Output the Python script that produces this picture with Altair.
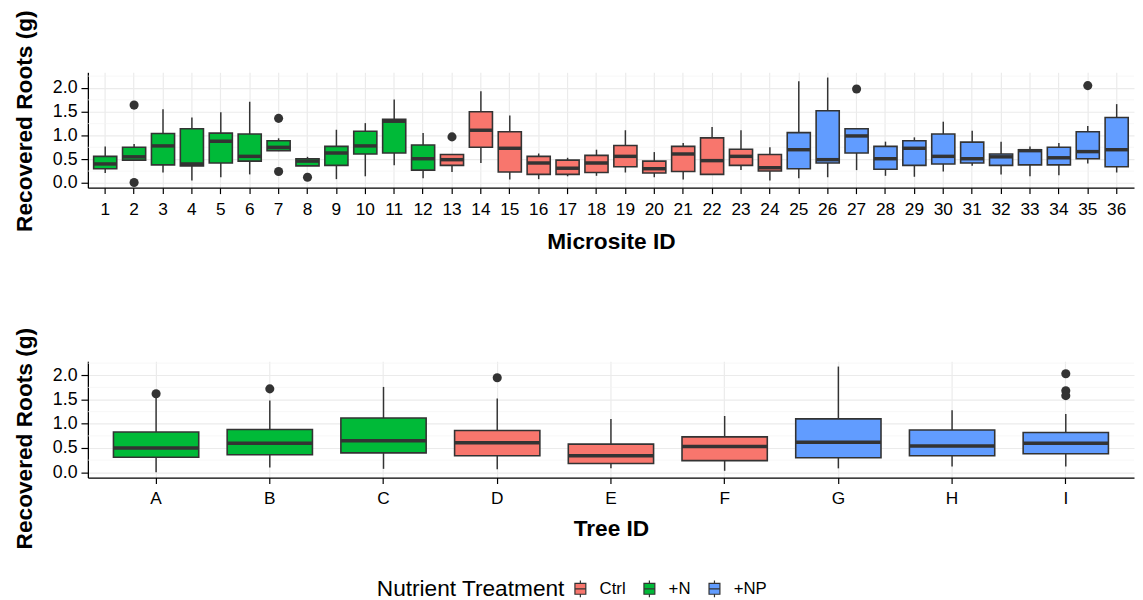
import altair as alt
import pandas as pd

# ---------------- data ----------------
sites = [str(i) for i in range(1, 37)]
site_trt = ["+N"] * 12 + ["Ctrl"] * 12 + ["+NP"] * 12
site_lo = [0.21, 0.47, 0.22, 0.05, 0.12, 0.18, 0.67, 0.36, 0.08, 0.14, 0.37, 0.10,
           0.23, 0.42, 0.07, 0.08, 0.14, 0.15, 0.22, 0.12, 0.07, 0.17, 0.27, 0.05,
           0.10, 0.12, 0.27, 0.15, 0.13, 0.24, 0.36, 0.18, 0.14, 0.16, 0.41, 0.22]
site_q1 = [0.30, 0.48, 0.38, 0.36, 0.42, 0.46, 0.68, 0.36, 0.37, 0.61, 0.63, 0.27,
           0.37, 0.75, 0.23, 0.18, 0.18, 0.22, 0.34, 0.21, 0.24, 0.18, 0.37, 0.25,
           0.30, 0.42, 0.63, 0.29, 0.37, 0.40, 0.42, 0.37, 0.38, 0.38, 0.51, 0.34]
site_med = [0.40, 0.55, 0.78, 0.40, 0.88, 0.56, 0.75, 0.46, 0.63, 0.78, 1.30, 0.51,
            0.49, 1.11, 0.73, 0.42, 0.31, 0.42, 0.56, 0.30, 0.61, 0.47, 0.56, 0.32,
            0.70, 0.49, 0.99, 0.51, 0.73, 0.56, 0.51, 0.55, 0.68, 0.53, 0.66, 0.70]
site_q3 = [0.56, 0.75, 1.04, 1.14, 1.05, 1.03, 0.89, 0.51, 0.77, 1.09, 1.34, 0.80,
           0.60, 1.50, 1.08, 0.56, 0.48, 0.58, 0.79, 0.46, 0.77, 0.95, 0.71, 0.60,
           1.06, 1.52, 1.14, 0.77, 0.89, 1.03, 0.86, 0.61, 0.70, 0.75, 1.08, 1.38]
site_hi = [0.77, 0.82, 1.55, 1.38, 1.49, 1.71, 0.94, 0.55, 1.12, 1.26, 1.76, 1.05,
           0.61, 1.93, 1.42, 0.62, 0.53, 0.70, 1.11, 0.65, 0.84, 1.18, 1.11, 0.75,
           2.14, 2.22, 1.15, 0.87, 0.96, 1.29, 1.10, 0.87, 0.77, 0.84, 1.20, 1.66]
site_out_id = ["2", "2", "7", "7", "8", "13", "27", "35"]
site_out_val = [1.64, 0.01, 1.36, 0.24, 0.12, 0.97, 1.98, 2.05]

trees = list("ABCDEFGHI")
tree_trt = ["+N"] * 3 + ["Ctrl"] * 3 + ["+NP"] * 3
tree_lo = [0.00, 0.10, 0.07, 0.06, 0.08, 0.03, 0.08, 0.12, 0.12]
tree_q1 = [0.31, 0.36, 0.40, 0.34, 0.18, 0.24, 0.30, 0.34, 0.38]
tree_med = [0.50, 0.60, 0.65, 0.61, 0.34, 0.53, 0.62, 0.54, 0.60]
tree_q3 = [0.83, 0.88, 1.12, 0.86, 0.58, 0.73, 1.10, 0.87, 0.82]
tree_hi = [1.55, 1.48, 1.76, 1.52, 1.10, 1.16, 2.18, 1.28, 1.20]
tree_out_id = ["A", "B", "D", "I", "I", "I"]
tree_out_val = [1.62, 1.72, 1.95, 2.03, 1.68, 1.58]

treatments = ["Ctrl", "+N", "+NP"]
trt_colors = ["#F8766D", "#00BA38", "#619CFF"]
major_ticks = [0, 0.5, 1.0, 1.5, 2.0]
minor_ticks = [0.25, 0.75, 1.25, 1.75, 2.25]

FONT = "Liberation Sans"
DARK = "#333333"
# small boxplot glyph used as the legend key
BOX_GLYPH = ("M0,-1L0,-0.65M-0.65,-0.65L0.65,-0.65L0.65,0.65L-0.65,0.65Z"
             "M0,0.65L0,1M-0.65,0L0.65,0")


def panel(ids, trt, lo, q1, med, q3, hi, out_id, out_val, xtitle,
          width, height, ydomain, pad_inner, pad_outer, label_size,
          label_pad, title_pad, title_y):
    stats = pd.DataFrame({"id": ids, "trt": trt, "lo": lo, "q1": q1,
                          "med": med, "q3": q3, "hi": hi})
    outs = pd.DataFrame({"id": out_id, "val": out_val})
    grid = pd.DataFrame({"v": minor_ticks})

    xscale = alt.Scale(type="band", domain=ids, paddingInner=pad_inner,
                       paddingOuter=pad_outer)
    yscale = alt.Scale(domain=ydomain, nice=False, zero=False)
    band = width / (len(ids) - pad_inner + 2 * pad_outer) * (1 - pad_inner)

    xaxis = alt.Axis(title=xtitle, labelAngle=0, grid=True, bandPosition=0.5,
                     labelFontSize=label_size, labelPadding=label_pad,
                     titlePadding=title_pad)
    yaxis = alt.Axis(title="Recovered Roots (g)", values=major_ticks,
                     format=".1f", grid=True, labelFontSize=18,
                     labelOverlap=False, labelPadding=4, tickSize=7,
                     titleX=-52, titleY=title_y)

    def X():
        return alt.X("id:N", scale=xscale, axis=xaxis, sort=ids)

    def Y(field):
        return alt.Y(field, type="quantitative", scale=yscale, axis=yaxis)

    minor = alt.Chart(grid).mark_rule(color="#F3F3F3", strokeWidth=0.7).encode(
        y=Y("v")
    )
    whisk = alt.Chart(stats).mark_rule(color=DARK, strokeWidth=1.5).encode(
        x=X(), y=Y("lo"), y2="hi:Q",
    )
    box = alt.Chart(stats).mark_bar(stroke=DARK, strokeWidth=1.6).encode(
        x=X(), y=Y("q1"), y2="q3:Q",
        color=alt.Color("trt:N", title="Nutrient Treatment",
                        scale=alt.Scale(domain=treatments, range=trt_colors)),
    )
    mid = alt.Chart(stats).mark_tick(color=DARK, thickness=3.5, size=band,
                                     orient="horizontal", opacity=1).encode(
        x=X(), y=Y("med"),
    )
    pts = alt.Chart(outs).mark_circle(color=DARK, size=85, opacity=1).encode(
        x=X(), y=Y("val"),
    )
    return alt.layer(minor, whisk, box, mid, pts).properties(
        width=width, height=height)


W = 1061
top = panel(sites, site_trt, site_lo, site_q1, site_med, site_q3, site_hi,
            site_out_id, site_out_val, "Microsite ID", W, 117, [-0.10, 2.33],
            0.2, 0.2, 17.5, 7, 13, 49)
bottom = panel(trees, tree_trt, tree_lo, tree_q1, tree_med, tree_q3, tree_hi,
               tree_out_id, tree_out_val, "Tree ID", W, 118, [-0.11, 2.29],
               0.25, 0.225, 17.5, 6, 11, 78)

chart = alt.vconcat(top, bottom, spacing=176, bounds="flush").properties(
    padding={"top": -3, "left": 5, "right": 0, "bottom": 0}
).configure_view(stroke=None).configure_axis(
    labelFont=FONT, titleFont=FONT, labelColor="#000000", titleColor="#000000",
    titleFontSize=23, titleFontWeight="bold", domainColor="#000000",
    domainWidth=1.3, tickColor="#000000", tickWidth=1.2, tickSize=6,
    gridColor="#EBEBEB", gridWidth=1.2,
).configure_legend(
    orient="none", legendX=293, legendY=514, direction="horizontal",
    titleOrient="left", titleFont=FONT, titleFontSize=23, titleLimit=400,
    titleFontWeight="normal", titleColor="#000000", labelFont=FONT,
    labelFontSize=17, labelColor="#000000", symbolType=BOX_GLYPH,
    symbolSize=289, symbolStrokeColor=DARK, symbolStrokeWidth=1.2,
    symbolOpacity=1, labelOffset=10, columnPadding=14, titlePadding=6,
)

chart.save("out.html", embed_options={"renderer": "svg", "actions": False})
